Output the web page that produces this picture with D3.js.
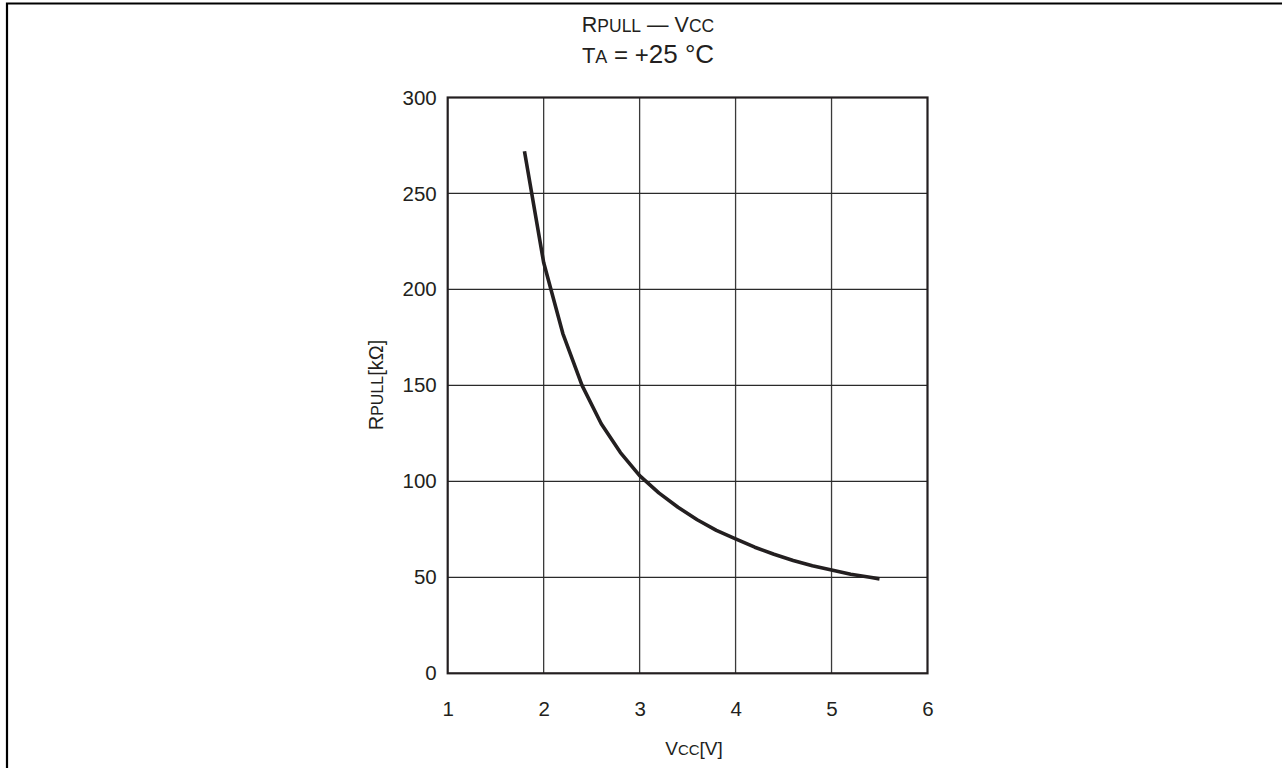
<!DOCTYPE html>
<html><head><meta charset="utf-8">
<script src="https://cdn.jsdelivr.net/npm/d3@7"></script>
<style>
html,body{margin:0;padding:0;background:#fff;}
svg{display:block;}
text{font-family:"Liberation Sans",Arial,sans-serif;fill:#231f20;}
</style></head>
<body>
<svg id="chart" width="1282" height="768"></svg>
<script>
const vcc = [1.8, 2.0, 2.2, 2.4, 2.6, 2.8, 3.0, 3.2, 3.4, 3.6, 3.8, 4.0, 4.2, 4.4, 4.6, 4.8, 5.0, 5.2, 5.4, 5.5];
const rpull = [272, 214, 177, 150, 130, 115, 103, 94, 86.5, 80, 74.5, 70, 65.7, 62, 58.8, 56, 53.8, 51.6, 50, 49.2];
const xTicks = [1, 2, 3, 4, 5, 6];
const yTicks = [0, 50, 100, 150, 200, 250, 300];

(function () {
const svg = d3.select("#chart");
const ink = "#231f20";
const pL = 447.7, pR = 927.5, pT = 97.5, pB = 673.3;
const x = d3.scaleLinear().domain([1, 6]).range([pL, pR]);
const y = d3.scaleLinear().domain([0, 300]).range([pB, pT]);

// page frame (left + top)
svg.append("path").attr("d", `M7,768 V3.5 H1282`).attr("fill", "none")
  .attr("stroke", "#000").attr("stroke-width", 2.2);

// grid
const g = svg.append("g");
g.selectAll(".vg").data(xTicks.slice(1, -1)).join("line")
  .attr("x1", d => x(d)).attr("x2", d => x(d)).attr("y1", pT).attr("y2", pB)
  .attr("stroke", "#3a3a3a").attr("stroke-width", 1.3);
g.selectAll(".hg").data(yTicks.slice(1, -1)).join("line")
  .attr("y1", d => y(d)).attr("y2", d => y(d)).attr("x1", pL).attr("x2", pR)
  .attr("stroke", "#2a2a2a").attr("stroke-width", 1.3);

// axes with d3 axis (labels only)
const xAxis = svg.append("g").attr("transform", `translate(0,${pB})`)
  .call(d3.axisBottom(x).tickValues(xTicks).tickSize(0).tickPadding(28).tickFormat(d3.format("d")));
xAxis.select(".domain").remove();
xAxis.selectAll("text").attr("font-size", 20.5).attr("fill", ink)
  .attr("font-family", "Liberation Sans, Arial, sans-serif");

const yAxis = svg.append("g").attr("transform", `translate(${pL},0)`)
  .call(d3.axisLeft(y).tickValues(yTicks).tickSize(0).tickPadding(11).tickFormat(d3.format("d")));
yAxis.select(".domain").remove();
yAxis.selectAll("text").attr("font-size", 20.5).attr("fill", ink)
  .attr("font-family", "Liberation Sans, Arial, sans-serif");

// plot frame
svg.append("rect").attr("x", pL).attr("y", pT).attr("width", pR - pL).attr("height", pB - pT)
  .attr("fill", "none").attr("stroke", ink).attr("stroke-width", 2.2);

// curve
const line = d3.line().x((d, i) => x(vcc[i])).y(d => y(d));
svg.append("path").datum(rpull).attr("d", line).attr("fill", "none")
  .attr("stroke", ink).attr("stroke-width", 3.6).attr("stroke-linejoin", "round");

// titles
function rich(parent, parts) {
  parts.forEach(([t, s]) => parent.append("tspan").attr("font-size", s).text(t));
}
const t1 = svg.append("text").attr("x", 648).attr("y", 32).attr("text-anchor", "middle");
rich(t1, [["R", 21.5], ["PULL", 17.5], [" — ", 21.5], ["V", 21.5], ["CC", 17.5]]);
const t2 = svg.append("text").attr("x", 648).attr("y", 63).attr("text-anchor", "middle");
rich(t2, [["T", 22], ["A", 18], [" = +", 24], ["25 °C", 26]]);

// axis titles
const xl = svg.append("text").attr("x", 694).attr("y", 755).attr("text-anchor", "middle");
rich(xl, [["V", 19], ["CC", 15], ["[V]", 19]]);
const yl = svg.append("text").attr("transform", "translate(383,385) rotate(-90)").attr("text-anchor", "middle");
rich(yl, [["R", 20], ["PULL", 16], ["[kΩ]", 20]]);
})();
</script>
</body></html>
